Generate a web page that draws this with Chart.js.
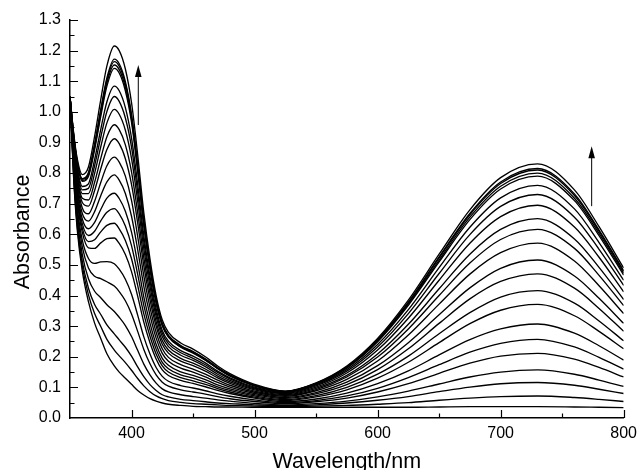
<!DOCTYPE html>
<html><head><meta charset="utf-8">
<script src="https://cdn.jsdelivr.net/npm/chart.js@4/dist/chart.umd.min.js"></script>
<style>html,body{margin:0;padding:0;background:#fff}canvas{display:block}</style>
</head><body><canvas id="c" width="643" height="470"></canvas>
<script>
const wavelengths = [350,353,356,360,365,370,375,380,386,390,395,400,405,410,415,420,425,430,440,450,460,470,480,500,525,550,575,600,625,650,675,700,730,760,780,800];

const curve00 = [1.05,0.78,0.61,0.48,0.38,0.31,0.26,0.21,0.17,0.15,0.13,0.11,0.09,0.075,0.063,0.055,0.049,0.045,0.041,0.038,0.037,0.036,0.036,0.035,0.035,0.035,0.035,0.035,0.035,0.036,0.037,0.037,0.037,0.036,0.035,0.034];
const curve01 = [1.05,0.788,0.622,0.496,0.402,0.341,0.299,0.257,0.222,0.203,0.181,0.156,0.129,0.105,0.086,0.072,0.063,0.057,0.051,0.047,0.045,0.043,0.041,0.039,0.037,0.039,0.041,0.045,0.050,0.058,0.065,0.070,0.072,0.067,0.061,0.054];
const curve02 = [1.05,0.795,0.634,0.512,0.424,0.371,0.338,0.304,0.275,0.255,0.231,0.202,0.167,0.135,0.109,0.090,0.076,0.069,0.061,0.057,0.053,0.049,0.047,0.043,0.040,0.043,0.049,0.058,0.070,0.086,0.101,0.112,0.116,0.107,0.094,0.080];
const curve03 = [1.05,0.806,0.650,0.534,0.455,0.414,0.393,0.370,0.348,0.329,0.302,0.266,0.221,0.176,0.141,0.114,0.095,0.085,0.076,0.070,0.065,0.059,0.055,0.048,0.043,0.047,0.055,0.069,0.088,0.111,0.134,0.150,0.157,0.143,0.124,0.103];
const curve04 = [1.05,0.818,0.669,0.559,0.490,0.463,0.455,0.445,0.431,0.413,0.383,0.340,0.283,0.224,0.177,0.141,0.117,0.104,0.092,0.085,0.078,0.070,0.063,0.054,0.047,0.053,0.065,0.085,0.112,0.146,0.179,0.202,0.211,0.192,0.165,0.134];
const curve05 = [1.05,0.828,0.685,0.581,0.521,0.505,0.510,0.511,0.504,0.486,0.453,0.404,0.336,0.265,0.209,0.165,0.136,0.120,0.106,0.098,0.089,0.079,0.071,0.059,0.050,0.057,0.072,0.097,0.132,0.174,0.215,0.244,0.257,0.232,0.198,0.160];
const curve06 = [1.05,0.840,0.704,0.606,0.556,0.554,0.572,0.586,0.588,0.570,0.534,0.478,0.398,0.313,0.246,0.193,0.157,0.139,0.123,0.113,0.102,0.090,0.080,0.065,0.053,0.062,0.081,0.112,0.154,0.206,0.256,0.291,0.307,0.277,0.236,0.189];
const curve07 = [1.05,0.847,0.715,0.620,0.576,0.582,0.608,0.629,0.636,0.618,0.580,0.520,0.433,0.340,0.267,0.209,0.170,0.150,0.132,0.121,0.110,0.096,0.085,0.068,0.057,0.069,0.092,0.130,0.182,0.246,0.308,0.352,0.371,0.334,0.283,0.226];
const curve08 = [1.05,0.854,0.726,0.635,0.596,0.610,0.644,0.672,0.684,0.667,0.627,0.563,0.469,0.368,0.288,0.225,0.182,0.161,0.141,0.130,0.117,0.102,0.090,0.072,0.060,0.073,0.100,0.143,0.202,0.275,0.344,0.395,0.416,0.375,0.317,0.252];
const curve09 = [1.05,0.861,0.737,0.650,0.618,0.639,0.681,0.718,0.734,0.717,0.675,0.607,0.506,0.396,0.310,0.241,0.195,0.172,0.151,0.139,0.125,0.108,0.095,0.076,0.064,0.079,0.109,0.158,0.226,0.309,0.389,0.446,0.471,0.424,0.358,0.283];
const curve10 = [1.05,0.870,0.750,0.668,0.643,0.674,0.726,0.771,0.794,0.777,0.733,0.659,0.550,0.430,0.336,0.261,0.211,0.185,0.163,0.150,0.134,0.116,0.101,0.080,0.067,0.083,0.117,0.171,0.246,0.337,0.425,0.489,0.516,0.464,0.391,0.309];
const curve11 = [1.05,0.878,0.763,0.686,0.667,0.708,0.769,0.824,0.852,0.836,0.790,0.711,0.593,0.464,0.361,0.280,0.226,0.198,0.174,0.160,0.143,0.124,0.107,0.084,0.071,0.089,0.126,0.186,0.271,0.372,0.470,0.540,0.571,0.513,0.432,0.341];
const curve12 = [1.05,0.887,0.777,0.704,0.692,0.743,0.814,0.877,0.912,0.896,0.847,0.763,0.637,0.497,0.387,0.300,0.241,0.212,0.186,0.171,0.153,0.131,0.113,0.088,0.074,0.093,0.134,0.199,0.291,0.400,0.506,0.583,0.616,0.554,0.466,0.367];
const curve13 = [1.05,0.893,0.787,0.718,0.712,0.770,0.848,0.919,0.958,0.942,0.892,0.804,0.671,0.524,0.408,0.315,0.253,0.222,0.195,0.179,0.160,0.137,0.118,0.092,0.076,0.097,0.139,0.209,0.306,0.422,0.535,0.616,0.651,0.585,0.492,0.387];
const curve14 = [1.05,0.900,0.798,0.733,0.733,0.799,0.886,0.964,1.008,0.992,0.940,0.848,0.708,0.552,0.430,0.332,0.266,0.233,0.205,0.188,0.168,0.143,0.123,0.095,0.079,0.101,0.147,0.222,0.326,0.450,0.571,0.658,0.695,0.624,0.525,0.412];
const curve15 = [1.05,0.906,0.808,0.745,0.750,0.824,0.917,1.001,1.050,1.034,0.980,0.885,0.738,0.576,0.448,0.345,0.277,0.243,0.213,0.195,0.174,0.149,0.128,0.098,0.081,0.105,0.153,0.232,0.341,0.472,0.599,0.691,0.730,0.656,0.551,0.433];
const curve16 = [1.05,0.911,0.816,0.756,0.765,0.844,0.943,1.033,1.084,1.069,1.014,0.915,0.764,0.596,0.463,0.357,0.286,0.251,0.220,0.202,0.180,0.153,0.131,0.101,0.083,0.108,0.158,0.240,0.354,0.491,0.623,0.719,0.760,0.683,0.573,0.450];
const curve17 = [1.05,0.920,0.829,0.773,0.789,0.877,0.985,1.084,1.142,1.127,1.069,0.966,0.806,0.628,0.488,0.376,0.301,0.264,0.231,0.212,0.189,0.161,0.137,0.105,0.085,0.111,0.163,0.249,0.368,0.510,0.648,0.748,0.790,0.710,0.596,0.467];
const curve18 = [1.05,0.921,0.831,0.776,0.794,0.884,0.994,1.095,1.153,1.138,1.080,0.976,0.815,0.635,0.493,0.380,0.304,0.266,0.233,0.214,0.190,0.162,0.139,0.106,0.086,0.112,0.165,0.251,0.372,0.516,0.656,0.757,0.800,0.718,0.603,0.473];
const curve19 = [1.05,0.923,0.834,0.780,0.798,0.890,1.002,1.104,1.164,1.149,1.091,0.985,0.822,0.641,0.498,0.383,0.307,0.269,0.235,0.216,0.192,0.163,0.140,0.106,0.087,0.113,0.167,0.254,0.376,0.523,0.664,0.766,0.810,0.727,0.610,0.479];
const curve20 = [1.05,0.924,0.835,0.782,0.802,0.895,1.008,1.111,1.172,1.157,1.099,0.992,0.828,0.646,0.501,0.386,0.309,0.270,0.237,0.217,0.193,0.165,0.141,0.107,0.087,0.113,0.167,0.256,0.378,0.526,0.668,0.771,0.815,0.732,0.614,0.481];
const curve21 = [1.05,0.930,0.845,0.795,0.820,0.920,1.040,1.150,1.215,1.200,1.140,1.030,0.860,0.670,0.520,0.400,0.320,0.280,0.245,0.225,0.200,0.170,0.145,0.110,0.088,0.115,0.170,0.260,0.385,0.535,0.680,0.785,0.830,0.745,0.625,0.490];

const curves = [curve00,curve01,curve02,curve03,curve04,curve05,curve06,curve07,curve08,curve09,curve10,curve11,curve12,curve13,curve14,curve15,curve16,curve17,curve18,curve19,curve20,curve21];

const xTickLabels = [400,500,600,700,800];
const xMinorTicks = [450,550,650,750];
const yMajorTicks = [0.1,0.2,0.3,0.4,0.5,0.6,0.7,0.8,0.9,1.0,1.1,1.2,1.3];
const yMinorTicks = [0.05,0.15,0.25,0.35,0.45,0.55,0.65,0.75,0.85,0.95,1.05,1.15,1.25];
const arrowWavelength = [405.5, 774];
const arrowFrom = [0.957, 0.692];
const arrowTo = [1.153, 0.888];
const xTitle = 'Wavelength/nm';
const yTitle = 'Absorbance';

const FONT = '"Liberation Sans", Arial, Helvetica, sans-serif';

const datasets = curves.map((c, i) => ({
  label: 'curve ' + (i + 1),
  data: wavelengths.map((w, j) => ({x: w, y: c[j]})),
  borderColor: '#000',
  borderWidth: 1.35,
  pointRadius: 0,
  fill: false,
  cubicInterpolationMode: 'monotone'
}));

const decor = {
  id: 'decor',
  afterDraw(chart) {
    const {ctx, chartArea} = chart;
    const x = chart.scales.x, y = chart.scales.y;
    ctx.save();
    ctx.strokeStyle = '#000';
    ctx.lineWidth = 1.2;
    ctx.beginPath();
    xTickLabels.forEach(v => { const p = Math.round(x.getPixelForValue(v)) + 0.5; ctx.moveTo(p, chartArea.bottom); ctx.lineTo(p, chartArea.bottom - 8); });
    xMinorTicks.forEach(v => { const p = Math.round(x.getPixelForValue(v)) + 0.5; ctx.moveTo(p, chartArea.bottom); ctx.lineTo(p, chartArea.bottom - 4.5); });
    yMajorTicks.forEach(v => { const p = Math.round(y.getPixelForValue(v)) + 0.5; ctx.moveTo(chartArea.left, p); ctx.lineTo(chartArea.left + 8, p); });
    yMinorTicks.forEach(v => { const p = Math.round(y.getPixelForValue(v)) + 0.5; ctx.moveTo(chartArea.left, p); ctx.lineTo(chartArea.left + 4.5, p); });
    ctx.stroke();

    ctx.lineWidth = 1;
    ctx.fillStyle = '#000';
    arrowWavelength.forEach((w, i) => {
      const px = x.getPixelForValue(w);
      const y0 = y.getPixelForValue(arrowFrom[i]);
      const y1 = y.getPixelForValue(arrowTo[i]);
      ctx.beginPath();
      ctx.moveTo(px, y0); ctx.lineTo(px, y1 + 10);
      ctx.stroke();
      ctx.beginPath();
      ctx.moveTo(px, y1); ctx.lineTo(px - 3.3, y1 + 12); ctx.lineTo(px + 3.3, y1 + 12); ctx.closePath();
      ctx.fill();
    });

    ctx.fillStyle = '#000';
    ctx.font = '21.5px ' + FONT;
    ctx.textAlign = 'center';
    ctx.textBaseline = 'alphabetic';
    ctx.fillText(xTitle, (chartArea.left + chartArea.right) / 2, 468);
    ctx.translate(29, 232);
    ctx.rotate(-Math.PI / 2);
    ctx.fillText(yTitle, 0, 0);
    ctx.restore();
  }
};

new Chart(document.getElementById('c'), {
  type: 'line',
  data: {datasets},
  options: {
    responsive: false,
    animation: false,
    devicePixelRatio: 1,
    layout: {padding: {left: 0, right: 15, top: 20, bottom: 0}},
    plugins: {legend: {display: false}, tooltip: {enabled: false}},
    scales: {
      x: {
        type: 'linear', min: 350, max: 800,
        afterFit(s) { s.height = 52; },
        ticks: {stepSize: 50, autoSkip: false, maxRotation: 0, padding: 6, color: '#000',
          font: {family: FONT, size: 16},
          callback: v => xTickLabels.includes(v) ? String(v) : ''},
        grid: {display: true, drawOnChartArea: false, drawTicks: false},
        border: {display: true, color: '#000', width: 1.5}
      },
      y: {
        type: 'linear', min: 0, max: 1.3,
        afterFit(s) { s.width = 70; },
        ticks: {stepSize: 0.1, autoSkip: false, padding: 9, color: '#000',
          font: {family: FONT, size: 16},
          callback: v => Number(v).toFixed(1)},
        grid: {display: true, drawOnChartArea: false, drawTicks: false},
        border: {display: true, color: '#000', width: 1.5}
      }
    }
  },
  plugins: [decor]
});
</script>
</body></html>
